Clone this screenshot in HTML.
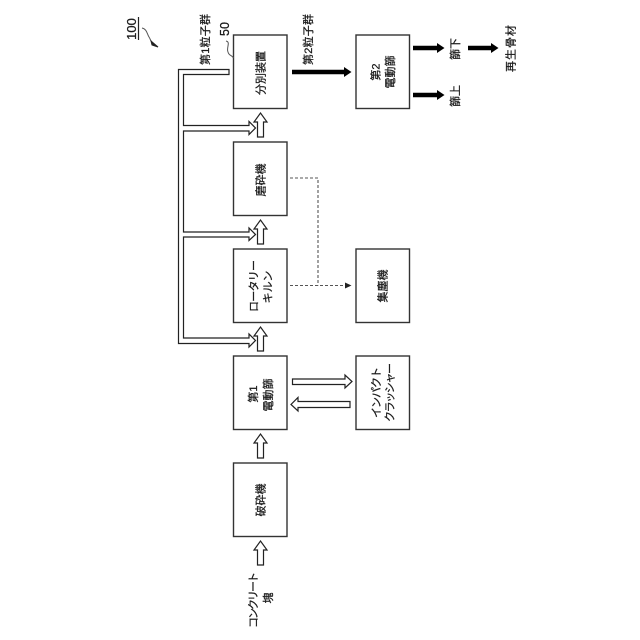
<!DOCTYPE html>
<html lang="ja">
<head>
<meta charset="utf-8">
<style>
html,body{margin:0;padding:0;background:#fff}
svg{display:block}
text{font-family:"Liberation Sans","Noto Sans CJK JP",sans-serif;fill:#1a1a1a;stroke:#1a1a1a;stroke-width:.25;text-anchor:middle;font-size:11px}
.b{fill:#fff;stroke:#333;stroke-width:1.4}
.h{fill:#fff;stroke:#222;stroke-width:1.2;stroke-linejoin:miter}
.k{stroke:#000;stroke-width:4.5;fill:none}
.d{stroke:#555;stroke-width:1.1;stroke-dasharray:3 2;fill:none}
</style>
</head>
<body>
<svg width="640" height="640" viewBox="0 0 640 640" xmlns="http://www.w3.org/2000/svg">
<rect width="640" height="640" fill="#fff"/>
<!-- boxes -->
<rect class="b" x="233.5" y="35" width="53.5" height="73.5"/>
<rect class="b" x="233.5" y="142" width="53.5" height="73.5"/>
<rect class="b" x="233.5" y="249" width="53.5" height="73.5"/>
<rect class="b" x="233.5" y="356" width="53.5" height="73.5"/>
<rect class="b" x="233.5" y="463" width="53.5" height="73.5"/>
<rect class="b" x="356" y="35" width="53.5" height="73.5"/>
<rect class="b" x="356" y="249" width="53.5" height="73.5"/>
<rect class="b" x="356" y="356" width="53.5" height="73.5"/>
<!-- vertical hollow arrows -->
<polygon class="h" points="257.5,137 257.5,122 254,122 260.5,113 267,122 263.5,122 263.5,137"/>
<polygon class="h" points="257.5,244 257.5,229 254,229 260.5,220 267,229 263.5,229 263.5,244"/>
<polygon class="h" points="257.5,351 257.5,336 254,336 260.5,327 267,336 263.5,336 263.5,351"/>
<polygon class="h" points="257.5,458 257.5,443 254,443 260.5,434 267,443 263.5,443 263.5,458"/>
<polygon class="h" points="257.5,565 257.5,550 254,550 260.5,541 267,550 263.5,550 263.5,565"/>
<!-- first particle pipe -->
<polygon class="h" points="229,69.5 178.5,69.5 178.5,343.5 249,343.5 249,347 255.5,340.5 249,334 249,338 183.5,338 183.5,237 249,237 249,240.5 255.5,234.5 249,228 249,232 183.5,232 183.5,131 249,131 249,134.5 255.5,128 249,121.5 249,125.5 183.5,125.5 183.5,74.5 229,74.5"/>
<!-- impact crusher hollow arrows -->
<polygon class="h" points="292.5,379 345,379 345,375 352,381.5 345,388 345,384.5 292.5,384.5"/>
<polygon class="h" points="350,401.5 298,401.5 298,397.5 291,404.5 298,411 298,407.5 350,407.5"/>
<!-- black arrows -->
<path class="k" d="M292 72H346"/><polygon points="344,67 351.5,72 344,77"/>
<path class="k" d="M413 48H439"/><polygon points="437,43 444.5,48 437,53"/>
<path class="k" d="M413 95H439"/><polygon points="437,90 444.5,95 437,100"/>
<path class="k" d="M468 48H493"/><polygon points="491,43 498.5,48 491,53"/>
<!-- dashed -->
<path class="d" d="M290 178H318V285.5"/>
<path class="d" d="M290 285.5H346"/>
<polygon points="345,282.5 351.5,285.5 345,288.5" fill="#222"/>
<!-- leaders -->
<path d="M142 28C147 29 147 34 149 37C151 40 150 41 153 43" fill="none" stroke="#555" stroke-width="1"/>
<polygon points="151,41 158,47 152,45" fill="#222" stroke="#222" stroke-width="1"/>
<path d="M226 41C231 42 226 48 228 52C229 56 232 55 233.5 58" fill="none" stroke="#555" stroke-width="1"/>
<line x1="138.5" y1="17" x2="138.5" y2="40" stroke="#222" stroke-width="1.2"/>
<!-- labels -->
<text transform="translate(260.5,73) rotate(-90)" dy="3.8">分別装置</text>
<text transform="translate(260.5,180) rotate(-90)" dy="3.8">磨砕機</text>
<text transform="translate(253.5,286) rotate(-90)" dy="3.8" textLength="52">ロータリー</text>
<text transform="translate(267.5,287) rotate(-90)" dy="3.8">キルン</text>
<text transform="translate(253,394) rotate(-90)" dy="3.8">第1</text>
<text transform="translate(268,395) rotate(-90)" dy="3.8">電動篩</text>
<text transform="translate(260.5,500) rotate(-90)" dy="3.8">破砕機</text>
<text transform="translate(375.5,72) rotate(-90)" dy="3.8">第2</text>
<text transform="translate(390,72) rotate(-90)" dy="3.8">電動篩</text>
<text transform="translate(382.5,286) rotate(-90)" dy="3.8">集塵機</text>
<text transform="translate(376,392.5) rotate(-90)" dy="3.8" textLength="51">インパクト</text>
<text transform="translate(389.5,392.5) rotate(-90)" dy="3.8" textLength="59">クラッシャー</text>
<text transform="translate(205,39.5) rotate(-90)" dy="3.8" textLength="51">第1粒子群</text>
<text transform="translate(308,39.5) rotate(-90)" dy="3.8" textLength="51">第2粒子群</text>
<text transform="translate(455,49) rotate(-90)" dy="3.8">篩下</text>
<text transform="translate(455,96) rotate(-90)" dy="3.8">篩上</text>
<text transform="translate(510.5,48.5) rotate(-90)" dy="3.8" textLength="47">再生骨材</text>
<text transform="translate(253,600) rotate(-90)" dy="3.8" textLength="56">コンクリート</text>
<text transform="translate(268,598) rotate(-90)" dy="3.8">塊</text>
<text transform="translate(131.5,29) rotate(-90)" dy="4.5" style="font-size:13px">100</text>
<text transform="translate(224.5,29) rotate(-90)" dy="4.5" style="font-size:12.5px">50</text>
</svg>
</body>
</html>
